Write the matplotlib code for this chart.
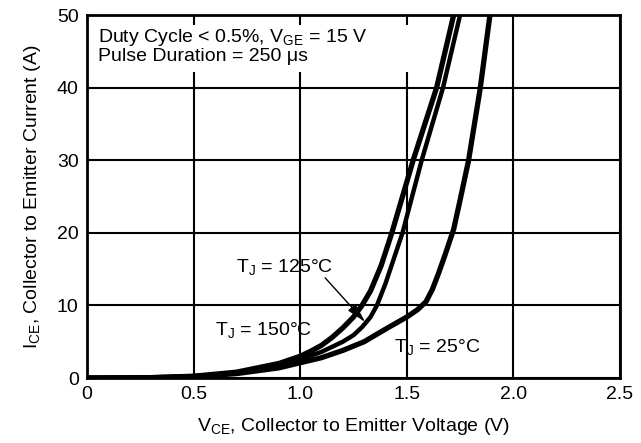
import matplotlib
matplotlib.use("Agg")
import matplotlib.pyplot as plt
from matplotlib.patches import Rectangle

plt.rcParams['font.family'] = ['Liberation Sans', 'DejaVu Sans']
plt.rcParams['mathtext.fontset'] = 'custom'
plt.rcParams['mathtext.rm'] = 'Liberation Sans'
plt.rcParams['mathtext.it'] = 'Liberation Sans'

# I-V curves
v_25 = [0, 0.3, 0.5, 0.7, 0.9, 1.0, 1.1, 1.2, 1.3, 1.41, 1.5, 1.55, 1.59, 1.62, 1.65,
        1.68, 1.72, 1.75, 1.79, 1.845, 1.89]
i_25 = [0, 0.05, 0.2, 0.6, 1.4, 2.1, 2.8, 3.8, 5.0, 6.9, 8.4, 9.4, 10.5, 12.2, 14.5,
        17, 20.5, 24.5, 30, 40, 50]

v_150 = [0, 0.3, 0.5, 0.7, 0.9, 1.0, 1.05, 1.1, 1.15, 1.2, 1.25, 1.29, 1.33, 1.38, 1.43,
         1.48, 1.53, 1.585, 1.64, 1.68, 1.72]
i_150 = [0, 0.05, 0.25, 0.8, 2.0, 3.0, 3.7, 4.5, 5.6, 6.9, 8.4, 10, 12, 15.5, 20,
         25, 30, 35, 40, 45, 50]

v_125 = [0, 0.3, 0.5, 0.7, 0.9, 1.0, 1.1, 1.2, 1.25, 1.29, 1.33, 1.36, 1.40, 1.44, 1.48,
         1.525, 1.57, 1.62, 1.67, 1.71, 1.75]
i_125 = [0, 0.05, 0.2, 0.7, 1.7, 2.6, 3.6, 5.0, 5.9, 7.0, 8.4, 10, 13, 16.5, 20,
         25, 30, 35, 40, 45, 50]

x_ticks = [0, 0.5, 1.0, 1.5, 2.0, 2.5]
x_labels = ['0', '0.5', '1.0', '1.5', '2.0', '2.5']
y_ticks = [0, 10, 20, 30, 40, 50]

fs = 14

fig = plt.figure(figsize=(6.41, 4.43), dpi=100)
ax = fig.add_axes([0.1357, 0.1467, 0.8315, 0.8194])

ax.set_xlim(0, 2.5)
ax.set_ylim(0, 50)
ax.set_xticks(x_ticks)
ax.set_xticklabels(x_labels)
ax.set_yticks(y_ticks)
ax.tick_params(length=0, labelsize=fs, pad=6)
ax.grid(True, color='black', linewidth=1.5)
ax.set_axisbelow(True)
for s in ax.spines.values():
    s.set_linewidth(2)

# white area behind the conditions text (hides grid)
ax.add_patch(Rectangle((0, 0.842), 0.615, 0.131, transform=ax.transAxes,
                       facecolor='white', edgecolor='none', zorder=1.5))

ax.plot(v_25, i_25, color='black', linewidth=3.8, zorder=3, solid_joinstyle='round')
ax.plot(v_150, i_150, color='black', linewidth=3.8, zorder=3, solid_joinstyle='round')
ax.plot(v_125, i_125, color='black', linewidth=3.2, zorder=3, solid_joinstyle='round')

ax.text(0.05, 48.3,
        'Duty Cycle < 0.5%, V$_{\\mathregular{GE}}$ = 15 V\nPulse Duration = 250 \u03bcs',
        fontsize=fs, va='top', linespacing=0.95, zorder=4)

ax.text(0.70, 14.6, 'T$_{\\mathregular{J}}$ = 125\u00b0C', fontsize=fs, va='baseline')
ax.text(0.60, 5.9, 'T$_{\\mathregular{J}}$ = 150\u00b0C', fontsize=fs, va='baseline')
ax.text(1.44, 3.6, 'T$_{\\mathregular{J}}$ = 25\u00b0C', fontsize=fs, va='baseline')

ax.annotate('', xy=(1.305, 7.7), xytext=(1.117, 13.8), zorder=5,
            arrowprops=dict(arrowstyle='-|>,head_length=1.0,head_width=0.25',
                            mutation_scale=12, color='black', linewidth=1.0,
                            shrinkA=0, shrinkB=0))

ax.set_xlabel('V$_{\\mathregular{CE}}$, Collector to Emitter Voltage (V)', fontsize=fs, labelpad=9)
ax.set_ylabel('I$_{\\mathregular{CE}}$, Collector to Emitter Current (A)', fontsize=fs, labelpad=10)

fig.savefig('out.png', dpi=100)
